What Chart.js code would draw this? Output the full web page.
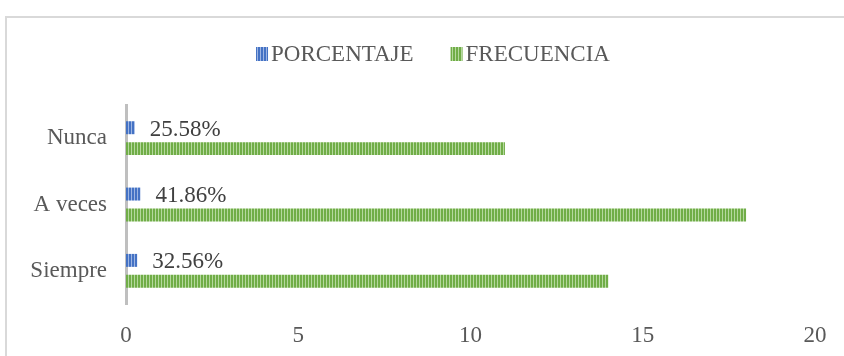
<!DOCTYPE html>
<html>
<head>
<meta charset="utf-8">
<script src="https://cdn.jsdelivr.net/npm/chart.js@4/dist/chart.umd.min.js"></script>
<style>
  html, body { margin: 0; padding: 0; background: #fff; overflow: hidden; width: 844px; height: 356px; }
  #frame { position: absolute; left: 5px; top: 16px; width: 880px; height: 400px; border: 2px solid #D9D9D9; box-sizing: border-box; }
  #wrap { position: absolute; left: 0; top: 0; width: 866px; height: 356px; }
</style>
</head>
<body>
<div id="frame"></div>
<div id="wrap"><canvas id="grafico"></canvas></div>
<script>
// datos del grafico
var categorias = ['Nunca', 'A veces', 'Siempre'];
var porcentaje = [0.2558, 0.4186, 0.3256];
var frecuencia = [11, 18, 14];
var serieNombres = ['PORCENTAJE', 'FRECUENCIA'];
var ejeX = [0, 20, 5]; // min, max, paso

var fuente = '"Liberation Serif", "Times New Roman", serif';

// trama de rayas verticales como en Excel
function trama(base, clara) {
    var c = document.createElement('canvas');
    c.width = 3; c.height = 3;
    var g = c.getContext('2d');
    g.fillStyle = base;
    g.fillRect(0, 0, 3, 3);
    g.fillStyle = clara;
    g.fillRect(2, 0, 1, 3);
    return g.createPattern(c, 'repeat');
}
var azul = trama('#4472C4', '#9DB5E3');
var verde = trama('#70AD47', '#B5D89E');

// leyenda dibujada a mano (caja pegada al texto)
var leyenda = {
    id: 'leyenda',
    afterDraw: function(chart) {
        var ctx = chart.ctx;
        ctx.save();
        ctx.font = '23px ' + fuente;
        ctx.textBaseline = 'middle';
        var caja = 12, sep = 3, hueco = 37;
        var total = 0;
        chart.data.datasets.forEach(function(ds, i) {
            total += caja + sep + ctx.measureText(ds.label).width + (i > 0 ? hueco : 0);
        });
        var x = chart.width / 2 - total / 2;
        var y = 54;
        chart.data.datasets.forEach(function(ds, i) {
            if (i > 0) x += hueco;
            ctx.fillStyle = ds.backgroundColor;
            ctx.fillRect(x, y - 7, caja, 14);
            x += caja + sep;
            ctx.fillStyle = '#595959';
            ctx.fillText(ds.label, x, y + 1);
            x += ctx.measureText(ds.label).width;
        });
        ctx.restore();
    }
};

// etiquetas de porcentaje junto a las barras azules
var etiquetas = {
    id: 'etiquetas',
    afterDatasetsDraw: function(chart) {
        var ctx = chart.ctx;
        var meta = chart.getDatasetMeta(0);
        ctx.save();
        ctx.font = '23px ' + fuente;
        ctx.fillStyle = '#404040';
        ctx.textBaseline = 'middle';
        ctx.textAlign = 'left';
        meta.data.forEach(function(el, i) {
            var v = chart.data.datasets[0].data[i];
            ctx.fillText((v * 100).toFixed(2) + '%', el.x + 15, el.y + 2);
        });
        ctx.restore();
    }
};

var ctx = document.getElementById('grafico').getContext('2d');
var chart = new Chart(ctx, {
    type: 'bar',
    data: {
        labels: categorias,
        datasets: [
            { label: serieNombres[0], data: porcentaje, backgroundColor: azul },
            { label: serieNombres[1], data: frecuencia, backgroundColor: verde }
        ]
    },
    options: {
        indexAxis: 'y',
        responsive: true,
        maintainAspectRatio: false,
        animation: false,
        categoryPercentage: 0.63,
        barPercentage: 0.62,
        layout: { padding: { top: 105, right: 51, left: 0, bottom: 0 } },
        plugins: {
            legend: { display: false },
            tooltip: { enabled: false }
        },
        scales: {
            x: {
                min: ejeX[0],
                max: ejeX[1],
                grid: { display: false },
                border: { display: false },
                ticks: { stepSize: ejeX[2], padding: 10, color: '#595959', font: { family: fuente, size: 23 } },
                afterFit: function(s) { s.height = 52; }
            },
            y: {
                grid: { display: false },
                border: { display: true, color: '#BFBFBF', width: 3 },
                ticks: { padding: 11, color: '#595959', font: { family: fuente, size: 23 } },
                afterFit: function(s) { s.width = 126; }
            }
        }
    },
    plugins: [leyenda, etiquetas]
});
</script>
</body>
</html>
